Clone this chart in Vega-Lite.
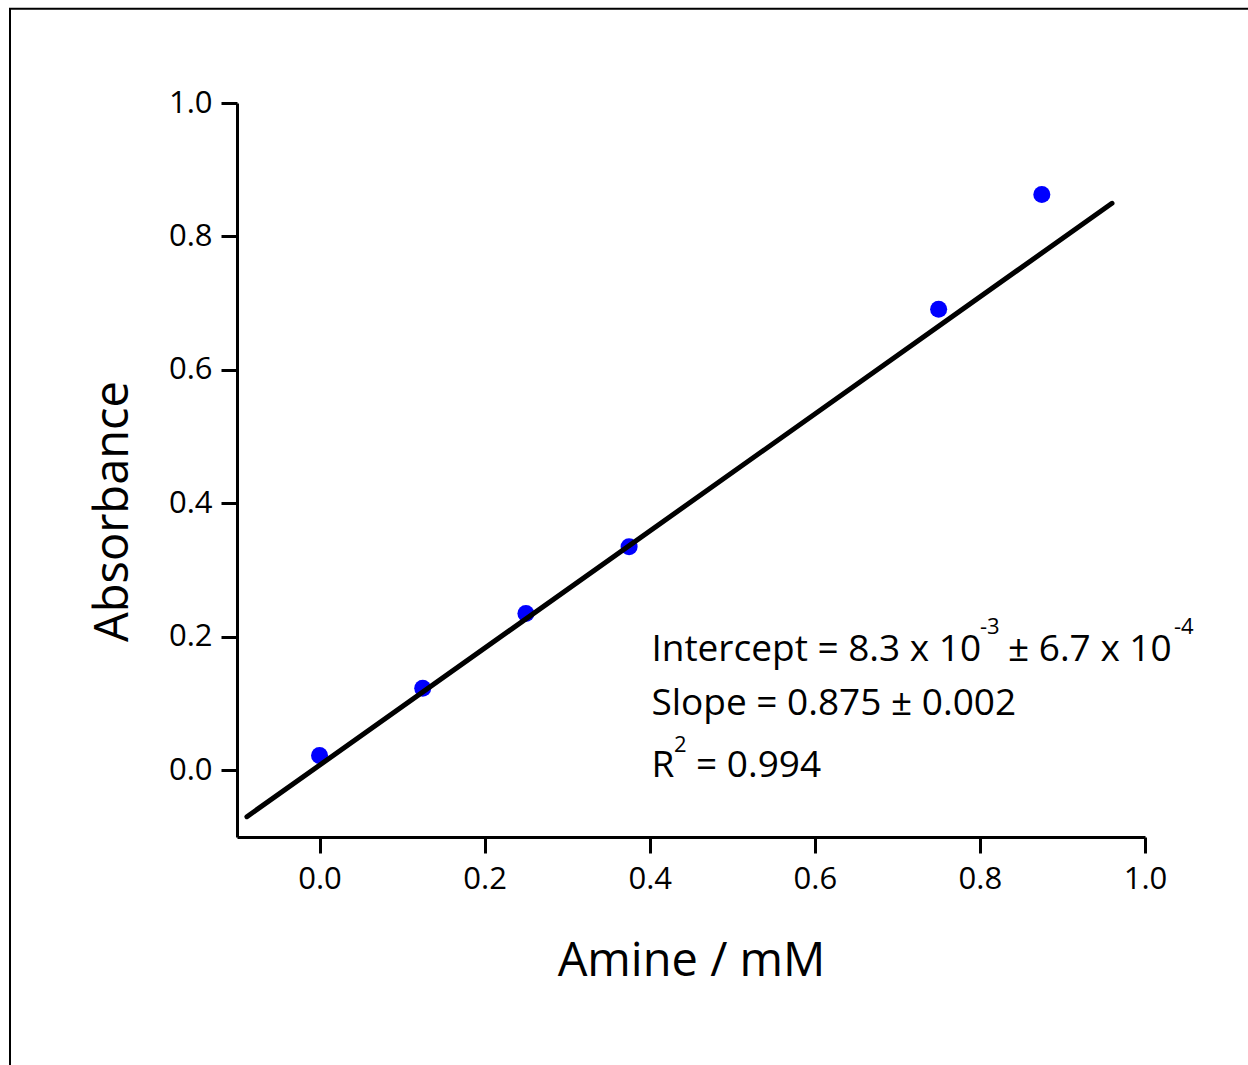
{
  "$schema": "https://vega.github.io/schema/vega-lite/v6.json",
  "width": 908,
  "height": 734,
  "autosize": {"type": "none"},
  "padding": {"left": 237, "top": 103, "right": 103, "bottom": 228},
  "background": "white",
  "config": {
    "view": {"stroke": null},
    "font": "Open Sans",
    "axis": {
      "grid": false,
      "domainColor": "black",
      "domainWidth": 3,
      "tickColor": "black",
      "tickWidth": 3,
      "tickSize": 16,
      "labelColor": "black",
      "labelFont": "Open Sans",
      "labelFontSize": 31,
      "labelFlush": false,
      "labelOverlap": false,
      "titleColor": "black",
      "titleFont": "Open Sans",
      "titleFontSize": 47,
      "titleFontWeight": "normal"
    }
  },
  "datasets": {
    "points": [
      {"amine": 0.0, "absorbance": 0.022},
      {"amine": 0.125, "absorbance": 0.123},
      {"amine": 0.25, "absorbance": 0.235},
      {"amine": 0.375, "absorbance": 0.335},
      {"amine": 0.75, "absorbance": 0.691},
      {"amine": 0.875, "absorbance": 0.863}
    ],
    "fit": [
      {"amine": -0.088, "absorbance": -0.0696},
      {"amine": 0.96, "absorbance": 0.8497}
    ],
    "notes": [
      {"label": "Intercept = 8.3 x 10", "amine": 0.402, "absorbance": 0.1645},
      {"label": "± 6.7 x 10", "amine": 0.834, "absorbance": 0.1645},
      {"label": "Slope = 0.875 ± 0.002", "amine": 0.402, "absorbance": 0.0828},
      {"label": "R", "amine": 0.402, "absorbance": -0.0101},
      {"label": "= 0.994", "amine": 0.4561, "absorbance": -0.0101}
    ],
    "superscripts": [
      {"label": "-3", "amine": 0.8001, "absorbance": 0.2042},
      {"label": "-4", "amine": 1.0351, "absorbance": 0.2042},
      {"label": "2", "amine": 0.4294, "absorbance": 0.0274}
    ]
  },
  "layer": [
    {
      "data": {"values": [{}]},
      "mark": {"type": "rect", "fill": null, "stroke": "black", "strokeWidth": 2, "clip": false},
      "encoding": {
        "x": {"datum": -0.375, "type": "quantitative", "scale": {"domain": [-0.1, 1.0], "nice": false}},
        "x2": {"datum": 1.6},
        "y": {"datum": 1.1413, "type": "quantitative", "scale": {"domain": [-0.1, 1.0], "nice": false}},
        "y2": {"datum": -0.8}
      }
    },
    {
      "data": {"name": "points"},
      "mark": {"type": "point", "shape": "circle", "filled": true, "color": "#0000ff", "opacity": 1, "size": 290},
      "encoding": {
        "x": {
          "field": "amine", "type": "quantitative",
          "scale": {"domain": [-0.1, 1.0], "nice": false, "zero": false},
          "axis": {
            "title": "Amine / mM",
            "values": [0, 0.2, 0.4, 0.6, 0.8, 1.0],
            "format": ".1f",
            "labelPadding": 11,
            "titleBaseline": "alphabetic",
            "titleY": 138,
            "titleX": 454
          }
        },
        "y": {
          "field": "absorbance", "type": "quantitative",
          "scale": {"domain": [-0.1, 1.0], "nice": false, "zero": false},
          "axis": {
            "title": "Absorbance",
            "values": [0, 0.2, 0.4, 0.6, 0.8, 1.0],
            "format": ".1f",
            "labelPadding": 9,
            "titleBaseline": "alphabetic",
            "titleAngle": -90,
            "titleX": -110,
            "titleY": 408
          }
        }
      }
    },
    {
      "data": {"name": "fit"},
      "mark": {"type": "line", "color": "black", "strokeWidth": 5, "strokeCap": "round"},
      "encoding": {
        "x": {"field": "amine", "type": "quantitative"},
        "y": {"field": "absorbance", "type": "quantitative"}
      }
    },
    {
      "data": {"name": "notes"},
      "mark": {"type": "text", "align": "left", "baseline": "alphabetic", "fontSize": 37, "font": "Open Sans", "color": "black"},
      "encoding": {
        "x": {"field": "amine", "type": "quantitative"},
        "y": {"field": "absorbance", "type": "quantitative"},
        "text": {"field": "label"}
      }
    },
    {
      "data": {"name": "superscripts"},
      "mark": {"type": "text", "align": "left", "baseline": "alphabetic", "fontSize": 22, "font": "Open Sans", "color": "black"},
      "encoding": {
        "x": {"field": "amine", "type": "quantitative"},
        "y": {"field": "absorbance", "type": "quantitative"},
        "text": {"field": "label"}
      }
    }
  ]
}
